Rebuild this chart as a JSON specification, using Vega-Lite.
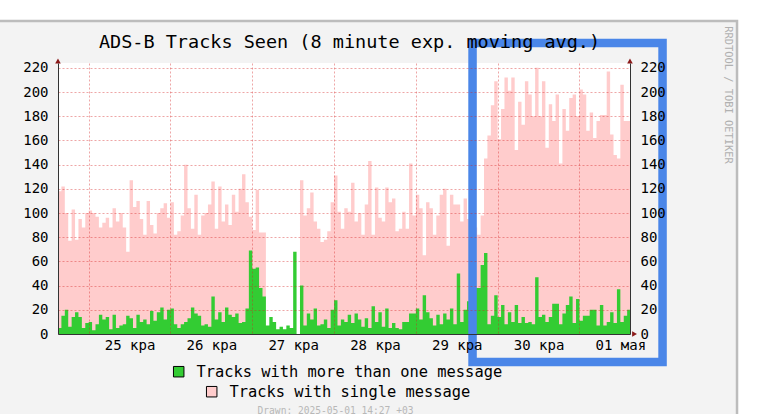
{
"$schema":"https://vega.github.io/schema/vega-lite/v6.json",
"width":572,"height":271,
"autosize":{"type":"none"},
"padding":{"left":58,"top":63,"right":133,"bottom":80},
"background":"white",
"config":{"view":{"stroke":null,"fill":"white"}},
"title":{"text":"ADS-B Tracks Seen (8 minute exp. moving avg.)","font":"DejaVu Sans Mono","fontSize":18.5,"fontWeight":"normal","color":"#000","anchor":"middle","dx":5.5,"dy":44,"offset":12},
"datasets":{"d":[
{"t":"2025-04-24T15:00:00Z","m":5,"s":118},{"t":"2025-04-24T16:00:00Z","m":15,"s":122},{"t":"2025-04-24T17:00:00Z","m":20,"s":100},{"t":"2025-04-24T18:00:00Z","m":6,"s":77},{"t":"2025-04-24T19:00:00Z","m":14,"s":103},{"t":"2025-04-24T20:00:00Z","m":18,"s":78},{"t":"2025-04-24T21:00:00Z","m":14,"s":95},{"t":"2025-04-24T22:00:00Z","m":5,"s":88},{"t":"2025-04-24T23:00:00Z","m":9,"s":100},
{"t":"2025-04-25T00:00:00Z","m":10,"s":102},{"t":"2025-04-25T01:00:00Z","m":3,"s":100},{"t":"2025-04-25T02:00:00Z","m":8,"s":97},{"t":"2025-04-25T03:00:00Z","m":16,"s":88},{"t":"2025-04-25T04:00:00Z","m":12,"s":92},{"t":"2025-04-25T05:00:00Z","m":14,"s":96},{"t":"2025-04-25T06:00:00Z","m":4,"s":88},{"t":"2025-04-25T07:00:00Z","m":16,"s":104},{"t":"2025-04-25T08:00:00Z","m":5,"s":93},{"t":"2025-04-25T09:00:00Z","m":7,"s":100},{"t":"2025-04-25T10:00:00Z","m":8,"s":88},{"t":"2025-04-25T11:00:00Z","m":15,"s":68},{"t":"2025-04-25T12:00:00Z","m":13,"s":127},{"t":"2025-04-25T13:00:00Z","m":5,"s":105},{"t":"2025-04-25T14:00:00Z","m":16,"s":110},{"t":"2025-04-25T15:00:00Z","m":10,"s":95},{"t":"2025-04-25T16:00:00Z","m":12,"s":82},{"t":"2025-04-25T17:00:00Z","m":8,"s":110},{"t":"2025-04-25T18:00:00Z","m":19,"s":90},{"t":"2025-04-25T19:00:00Z","m":11,"s":83},{"t":"2025-04-25T20:00:00Z","m":18,"s":100},{"t":"2025-04-25T21:00:00Z","m":22,"s":104},{"t":"2025-04-25T22:00:00Z","m":12,"s":108},{"t":"2025-04-25T23:00:00Z","m":20,"s":96},
{"t":"2025-04-26T00:00:00Z","m":21,"s":109},{"t":"2025-04-26T01:00:00Z","m":8,"s":82},{"t":"2025-04-26T02:00:00Z","m":5,"s":85},{"t":"2025-04-26T03:00:00Z","m":8,"s":98},{"t":"2025-04-26T04:00:00Z","m":10,"s":140},{"t":"2025-04-26T05:00:00Z","m":13,"s":104},{"t":"2025-04-26T06:00:00Z","m":22,"s":87},{"t":"2025-04-26T07:00:00Z","m":17,"s":115},{"t":"2025-04-26T08:00:00Z","m":15,"s":82},{"t":"2025-04-26T09:00:00Z","m":7,"s":98},{"t":"2025-04-26T10:00:00Z","m":8,"s":100},{"t":"2025-04-26T11:00:00Z","m":6,"s":107},{"t":"2025-04-26T12:00:00Z","m":31,"s":126},{"t":"2025-04-26T13:00:00Z","m":12,"s":87},{"t":"2025-04-26T14:00:00Z","m":18,"s":122},{"t":"2025-04-26T15:00:00Z","m":10,"s":93},{"t":"2025-04-26T16:00:00Z","m":22,"s":107},{"t":"2025-04-26T17:00:00Z","m":16,"s":90},{"t":"2025-04-26T18:00:00Z","m":14,"s":115},{"t":"2025-04-26T19:00:00Z","m":17,"s":101},{"t":"2025-04-26T20:00:00Z","m":9,"s":120},{"t":"2025-04-26T21:00:00Z","m":10,"s":132},{"t":"2025-04-26T22:00:00Z","m":21,"s":109},{"t":"2025-04-26T23:00:00Z","m":69,"s":97},
{"t":"2025-04-27T00:00:00Z","m":54,"s":86},{"t":"2025-04-27T01:00:00Z","m":55,"s":119},{"t":"2025-04-27T02:00:00Z","m":38,"s":84},{"t":"2025-04-27T03:00:00Z","m":31,"s":84},{"t":"2025-04-27T04:00:00Z","m":7,"s":0},{"t":"2025-04-27T05:00:00Z","m":14,"s":0},{"t":"2025-04-27T06:00:00Z","m":10,"s":0},{"t":"2025-04-27T07:00:00Z","m":4,"s":0},{"t":"2025-04-27T08:00:00Z","m":6,"s":0},{"t":"2025-04-27T09:00:00Z","m":4,"s":0},{"t":"2025-04-27T10:00:00Z","m":7,"s":0},{"t":"2025-04-27T11:00:00Z","m":5,"s":0},{"t":"2025-04-27T12:00:00Z","m":68,"s":0},{"t":"2025-04-27T13:00:00Z","m":0,"s":0},{"t":"2025-04-27T14:00:00Z","m":40,"s":127},{"t":"2025-04-27T15:00:00Z","m":7,"s":98},{"t":"2025-04-27T16:00:00Z","m":17,"s":104},{"t":"2025-04-27T17:00:00Z","m":12,"s":117},{"t":"2025-04-27T18:00:00Z","m":21,"s":93},{"t":"2025-04-27T19:00:00Z","m":7,"s":87},{"t":"2025-04-27T20:00:00Z","m":8,"s":76},{"t":"2025-04-27T21:00:00Z","m":12,"s":78},{"t":"2025-04-27T22:00:00Z","m":5,"s":85},{"t":"2025-04-27T23:00:00Z","m":20,"s":109},
{"t":"2025-04-28T00:00:00Z","m":28,"s":131},{"t":"2025-04-28T01:00:00Z","m":7,"s":101},{"t":"2025-04-28T02:00:00Z","m":12,"s":87},{"t":"2025-04-28T03:00:00Z","m":10,"s":104},{"t":"2025-04-28T04:00:00Z","m":16,"s":101},{"t":"2025-04-28T05:00:00Z","m":9,"s":125},{"t":"2025-04-28T06:00:00Z","m":17,"s":93},{"t":"2025-04-28T07:00:00Z","m":12,"s":100},{"t":"2025-04-28T08:00:00Z","m":6,"s":82},{"t":"2025-04-28T09:00:00Z","m":13,"s":107},{"t":"2025-04-28T10:00:00Z","m":5,"s":143},{"t":"2025-04-28T11:00:00Z","m":23,"s":82},{"t":"2025-04-28T12:00:00Z","m":10,"s":121},{"t":"2025-04-28T13:00:00Z","m":18,"s":96},{"t":"2025-04-28T14:00:00Z","m":6,"s":93},{"t":"2025-04-28T15:00:00Z","m":21,"s":121},{"t":"2025-04-28T16:00:00Z","m":5,"s":109},{"t":"2025-04-28T17:00:00Z","m":9,"s":112},{"t":"2025-04-28T18:00:00Z","m":5,"s":85},{"t":"2025-04-28T19:00:00Z","m":4,"s":87},{"t":"2025-04-28T20:00:00Z","m":10,"s":101},{"t":"2025-04-28T21:00:00Z","m":10,"s":87},{"t":"2025-04-28T22:00:00Z","m":17,"s":141},{"t":"2025-04-28T23:00:00Z","m":17,"s":98},
{"t":"2025-04-29T00:00:00Z","m":21,"s":115},{"t":"2025-04-29T01:00:00Z","m":12,"s":104},{"t":"2025-04-29T02:00:00Z","m":32,"s":65},{"t":"2025-04-29T03:00:00Z","m":18,"s":109},{"t":"2025-04-29T04:00:00Z","m":13,"s":104},{"t":"2025-04-29T05:00:00Z","m":7,"s":82},{"t":"2025-04-29T06:00:00Z","m":16,"s":98},{"t":"2025-04-29T07:00:00Z","m":8,"s":115},{"t":"2025-04-29T08:00:00Z","m":17,"s":120},{"t":"2025-04-29T09:00:00Z","m":12,"s":73},{"t":"2025-04-29T10:00:00Z","m":21,"s":115},{"t":"2025-04-29T11:00:00Z","m":8,"s":107},{"t":"2025-04-29T12:00:00Z","m":50,"s":107},{"t":"2025-04-29T13:00:00Z","m":10,"s":93},{"t":"2025-04-29T14:00:00Z","m":20,"s":112},{"t":"2025-04-29T15:00:00Z","m":27,"s":95},{"t":"2025-04-29T16:00:00Z","m":15,"s":90},{"t":"2025-04-29T17:00:00Z","m":38,"s":88},{"t":"2025-04-29T18:00:00Z","m":38,"s":82},{"t":"2025-04-29T19:00:00Z","m":57,"s":98},{"t":"2025-04-29T20:00:00Z","m":67,"s":145},{"t":"2025-04-29T21:00:00Z","m":8,"s":164},{"t":"2025-04-29T22:00:00Z","m":15,"s":189},{"t":"2025-04-29T23:00:00Z","m":32,"s":209},
{"t":"2025-04-30T00:00:00Z","m":14,"s":161},{"t":"2025-04-30T01:00:00Z","m":24,"s":186},{"t":"2025-04-30T02:00:00Z","m":8,"s":212},{"t":"2025-04-30T03:00:00Z","m":18,"s":201},{"t":"2025-04-30T04:00:00Z","m":10,"s":212},{"t":"2025-04-30T05:00:00Z","m":24,"s":152},{"t":"2025-04-30T06:00:00Z","m":9,"s":192},{"t":"2025-04-30T07:00:00Z","m":14,"s":173},{"t":"2025-04-30T08:00:00Z","m":9,"s":209},{"t":"2025-04-30T09:00:00Z","m":10,"s":198},{"t":"2025-04-30T10:00:00Z","m":8,"s":180},{"t":"2025-04-30T11:00:00Z","m":47,"s":220},{"t":"2025-04-30T12:00:00Z","m":14,"s":180},{"t":"2025-04-30T13:00:00Z","m":16,"s":209},{"t":"2025-04-30T14:00:00Z","m":10,"s":154},{"t":"2025-04-30T15:00:00Z","m":14,"s":190},{"t":"2025-04-30T16:00:00Z","m":25,"s":176},{"t":"2025-04-30T17:00:00Z","m":25,"s":198},{"t":"2025-04-30T18:00:00Z","m":8,"s":141},{"t":"2025-04-30T19:00:00Z","m":17,"s":186},{"t":"2025-04-30T20:00:00Z","m":24,"s":168},{"t":"2025-04-30T21:00:00Z","m":31,"s":195},{"t":"2025-04-30T22:00:00Z","m":9,"s":198},{"t":"2025-04-30T23:00:00Z","m":29,"s":180},
{"t":"2025-05-01T00:00:00Z","m":11,"s":202},{"t":"2025-05-01T01:00:00Z","m":15,"s":198},{"t":"2025-05-01T02:00:00Z","m":15,"s":168},{"t":"2025-05-01T03:00:00Z","m":20,"s":183},{"t":"2025-05-01T04:00:00Z","m":20,"s":162},{"t":"2025-05-01T05:00:00Z","m":7,"s":176},{"t":"2025-05-01T06:00:00Z","m":24,"s":181},{"t":"2025-05-01T07:00:00Z","m":7,"s":181},{"t":"2025-05-01T08:00:00Z","m":10,"s":217},{"t":"2025-05-01T09:00:00Z","m":18,"s":165},{"t":"2025-05-01T10:00:00Z","m":9,"s":148},{"t":"2025-05-01T11:00:00Z","m":37,"s":145},{"t":"2025-05-01T12:00:00Z","m":10,"s":206},{"t":"2025-05-01T13:00:00Z","m":15,"s":176},{"t":"2025-05-01T14:00:00Z","m":20,"s":176},{"t":"2025-05-01T15:00:00Z","m":20,"s":176}
]},
"layer":[
{"data":{"values":[{}]},
 "mark":{"type":"rect","fill":"#f3f3f3","stroke":"#bcbcbc","strokeWidth":2.5,"clip":false},
 "encoding":{
  "x":{"datum":{"year":2025,"month":4,"date":23,"hours":20,"minutes":31,"utc":true},"type":"temporal","scale":{"type":"utc","domain":[{"year":2025,"month":4,"date":24,"hours":15,"utc":true},{"year":2025,"month":5,"date":1,"hours":14,"minutes":50,"utc":true}]},"axis":null},
  "x2":{"datum":{"year":2025,"month":5,"date":2,"hours":22,"minutes":14,"utc":true}},
  "y":{"datum":258.7,"type":"quantitative","scale":{"domain":[0,224],"nice":false,"zero":false},"axis":null},
  "y2":{"datum":-71}}},
{"data":{"values":[{}]},
 "mark":{"type":"rect","fill":"white","clip":false},
 "encoding":{
  "x":{"datum":{"year":2025,"month":4,"date":24,"hours":15,"utc":true},"type":"temporal","scale":{"type":"utc"},"axis":null},
  "x2":{"datum":{"year":2025,"month":5,"date":1,"hours":14,"minutes":50,"utc":true}},
  "y":{"datum":224,"type":"quantitative","axis":null},
  "y2":{"datum":0}}},
{"data":{"name":"d"},
 "mark":{"type":"area","interpolate":"step-after","clip":true},
 "encoding":{
  "x":{"field":"t","type":"temporal","scale":{"type":"utc","domain":[{"year":2025,"month":4,"date":24,"hours":15,"utc":true},{"year":2025,"month":5,"date":1,"hours":14,"minutes":50,"utc":true}]},
   "axis":{"tickCount":{"interval":"day","step":1},
    "labelExpr":"(utcdate(datum.value) < 10 ? '0' : '') + utcdate(datum.value) + (utcmonth(datum.value) == 3 ? ' кра' : ' мая')",
    "labelOffset":40.9,"labelFont":"DejaVu Sans Mono","labelFontSize":14,"labelColor":"#000","labelPadding":4,"labelBaseline":"top","labelFlush":false,"labelOverlap":false,"labelBound":false,
    "ticks":false,"domainColor":"#333","grid":true,"gridColor":"#d42020","gridOpacity":0.4,"gridDash":[2,2],"zindex":1,
    "title":"Drawn: 2025-05-01 14:27 +03","titleFont":"DejaVu Sans Mono","titleFontSize":9.6,"titleFontWeight":"normal","titleColor":"#b8b8b8","titleX":277,"titleY":79.7,"titleBaseline":"alphabetic","titleAlign":"center"}},
  "y":{"field":"s","type":"quantitative","scale":{"domain":[0,224],"nice":false,"zero":false},
   "axis":{"orient":"left","values":[0,20,40,60,80,100,120,140,160,180,200,220],"labelFont":"DejaVu Sans Mono","labelFontSize":14,"labelColor":"#000","labelPadding":10,"ticks":false,"domainColor":"#333","grid":true,"gridColor":"#d42020","gridOpacity":0.4,"gridDash":[2,2],"zindex":1,"title":null}},
  "fill":{"datum":"Tracks with single message","type":"nominal","scale":{"range":["#ffcccc"]},
   "legend":{"orient":"none","legendX":146,"legendY":321,"title":null,"padding":0,"symbolType":"square","symbolSize":110,"symbolStrokeColor":"#000","symbolStrokeWidth":1,"labelFont":"DejaVu Sans Mono","labelFontSize":15.4,"labelColor":"#000","labelOffset":10,"labelLimit":1000}}}},
{"data":{"name":"d"},
 "mark":{"type":"area","interpolate":"step-after","clip":true},
 "encoding":{
  "x":{"field":"t","type":"temporal","scale":{"type":"utc"},"axis":null},
  "y":{"field":"m","type":"quantitative",
   "axis":{"orient":"right","values":[0,20,40,60,80,100,120,140,160,180,200,220],"labelFont":"DejaVu Sans Mono","labelFontSize":14,"labelColor":"#000","labelPadding":10,"ticks":false,"domainColor":"#333","grid":false,"zindex":1,
    "title":"RRDTOOL / TOBI OETIKER","titleFont":"DejaVu Sans Mono","titleFontSize":10.4,"titleFontWeight":"normal","titleColor":"#b0b0b0","titleAngle":90,"titleX":97.5,"titleY":31.5,"titleAlign":"center","titleBaseline":"middle"}},
  "color":{"datum":"Tracks with more than one message","type":"nominal","scale":{"range":["#33cc33"]},
   "legend":{"orient":"none","legendX":113,"legendY":301,"title":null,"padding":0,"symbolType":"square","symbolSize":110,"symbolStrokeColor":"#000","symbolStrokeWidth":1,"labelFont":"DejaVu Sans Mono","labelFontSize":15.4,"labelColor":"#000","labelOffset":10,"labelLimit":1000}}}},
{"data":{"values":[{}]},
 "mark":{"type":"point","shape":"triangle-up","filled":true,"color":"#8b1a1a","opacity":1,"size":32,"clip":false},
 "encoding":{"x":{"datum":{"year":2025,"month":4,"date":24,"hours":15,"utc":true},"type":"temporal","scale":{"type":"utc"},"axis":null},"y":{"datum":225.7,"type":"quantitative","axis":null}}},
{"data":{"values":[{}]},
 "mark":{"type":"point","shape":"triangle-up","filled":true,"color":"#8b1a1a","opacity":1,"size":32,"clip":false},
 "encoding":{"x":{"datum":{"year":2025,"month":5,"date":1,"hours":14,"minutes":50,"utc":true},"type":"temporal","scale":{"type":"utc"},"axis":null},"y":{"datum":225.7,"type":"quantitative","axis":null}}},
{"data":{"values":[{}]},
 "mark":{"type":"point","shape":"triangle-right","filled":true,"color":"#8b1a1a","opacity":1,"size":32,"clip":false},
 "encoding":{"x":{"datum":{"year":2025,"month":5,"date":1,"hours":16,"minutes":10,"utc":true},"type":"temporal","scale":{"type":"utc"},"axis":null},"y":{"datum":0,"type":"quantitative","axis":null}}},
{"data":{"values":[{}]},
 "mark":{"type":"rect","fill":"transparent","stroke":"#4a86e8","strokeWidth":8.5,"clip":false},
 "encoding":{
  "x":{"datum":{"year":2025,"month":4,"date":29,"hours":16,"minutes":38,"utc":true},"type":"temporal","scale":{"type":"utc"},"axis":null},
  "x2":{"datum":{"year":2025,"month":5,"date":2,"hours":0,"minutes":23,"utc":true}},
  "y":{"datum":240.5,"type":"quantitative","axis":null},
  "y2":{"datum":-23.1}}}
],
"resolve":{"axis":{"x":"independent","y":"independent"}}
}
